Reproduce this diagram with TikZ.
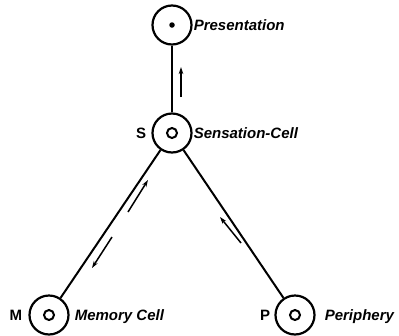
\documentclass[tikz,border=0pt]{standalone}
\usepackage{fontspec}
\newfontfamily\cellfont{Liberation Sans}
\usetikzlibrary{positioning,arrows.meta}
\tikzset{
  cell/.style={draw=black, circle, line width=2.2pt, minimum size=39pt, inner sep=0pt},
  core/.style={draw=black, circle, line width=2pt, minimum size=10pt, inner sep=0pt},
  spot/.style={fill=black, circle, minimum size=5.5pt, inner sep=0pt},
  cellname/.style={font=\cellfont\fontsize{15}{17}\selectfont\bfseries\itshape, inner sep=0pt, text height=10.6pt, text depth=0pt},
  letter/.style={font=\cellfont\fontsize{15}{17}\selectfont\bfseries, inner sep=0pt, text height=10.6pt, text depth=0pt},
  nerve/.style={line width=2pt},
  flow/.style={line width=1.5pt, -{Stealth[length=7pt, width=4.5pt]}},
}

\begin{document}
\begin{tikzpicture}[x=1pt, y=1pt]
\useasboundingbox (0, 0) rectangle (399, -335);

\node[cell] (pres) at (172, -25) {};
\node[cell] (sens) at (172, -133) {};
\node[cell] (mem) at (49, -315) {};
\node[cell] (peri) at (295, -315) {};

\node[spot] (presdot) at (pres) {};
\node[core] (senscore) at (sens) {};
\node[core] (memcore) at (mem) {};
\node[core] (pericore) at (peri) {};

\node[cellname, right=1pt of pres] (presname) {Presentation};
\node[cellname, right=1pt of sens] (sensname) {Sensation-Cell};
\node[cellname, right=5pt of mem] (memname) {Memory Cell};
\node[cellname, right=9pt of peri] (periname) {Periphery};

\node[letter, left=5pt of sens] (S) {S};
\node[letter, left=6pt of mem] (M) {M};
\node[letter, left=4pt of peri] (P) {P};

\draw[nerve] (sens) -- (pres);
\draw[nerve] (sens) -- (mem);
\draw[nerve] (sens) -- (peri);

% arrows beside the fibres
\coordinate (up0) at (181, -97);
\coordinate (up1) at (181, -67);
\coordinate (in0) at (128, -212);
\coordinate (in1) at (148, -180);
\coordinate (out0) at (112, -237);
\coordinate (out1) at (92, -268);
\coordinate (per0) at (241, -243);
\coordinate (per1) at (220, -217);

\draw[flow] (up0) -- (up1);
\draw[flow] (in0) -- (in1);
\draw[flow] (out0) -- (out1);
\draw[flow] (per0) -- (per1);

\end{tikzpicture}
\end{document}
